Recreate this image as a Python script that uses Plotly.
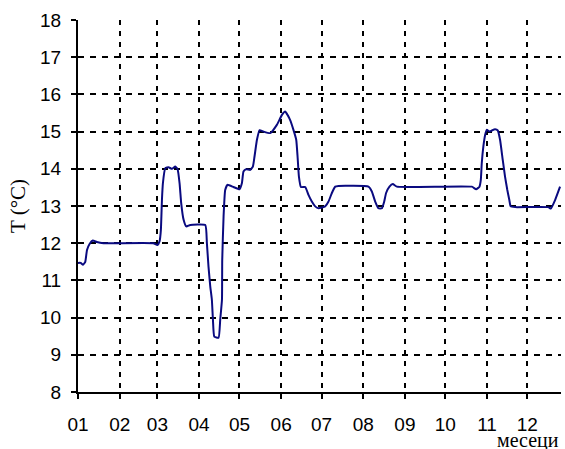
import plotly.graph_objects as go

# day offset from 1 January (non-leap year) and temperature in °C
day = [0, 2, 3.7, 5.4, 6.7, 8.6, 11, 14, 19, 56, 59, 60.6, 61.6, 62.4, 63.1, 64.9,
       67.3, 69.8, 72.3, 74, 75.5, 76.7, 78.5, 80.5, 83.4, 94.6, 95.8, 97, 98.3,
       99.5, 100.3, 101.3, 104.5, 105.7, 107, 107.2, 108.2, 109.4, 111.1, 115.6,
       120, 121.8, 123, 125, 128, 130, 131.2, 133, 135, 137.9, 142.9, 147.8, 151.6,
       154, 157.7, 160.2, 162.2, 163.2, 164.2, 165.7, 168.9, 171.3, 173.8, 176.3,
       178.8, 183.7, 186.2, 188.7, 191.2, 193.6, 215.9, 218.4, 220.9, 223.3, 225.9,
       227.6, 229, 231.5, 234, 237, 292.7, 295.9, 298.4, 299.4, 300.1, 301.3, 302.6,
       303.9, 305.8, 307.6, 310, 312, 313.7, 315.7, 317.4, 319.1, 320.6, 321.6,
       324.9, 349.6, 351.4, 354.6, 358.3]
temp = [11.47, 11.47, 11.42, 11.5, 11.82, 11.98, 12.07, 12.03, 12.0, 12.0, 11.95,
        12.05, 12.36, 13.17, 13.61, 14.02, 14.04, 14.0, 14.06, 13.99, 13.61, 13.08,
        12.63, 12.45, 12.49, 12.49, 12.0, 11.37, 10.84, 10.48, 9.94, 9.49, 9.46,
        9.94, 10.48, 11.55, 12.72, 13.43, 13.57, 13.51, 13.45, 13.61, 13.93, 13.99,
        13.97, 14.06, 14.33, 14.78, 15.04, 15.0, 14.96, 15.18, 15.45, 15.54, 15.31,
        15.04, 14.78, 14.33, 13.79, 13.51, 13.51, 13.3, 13.12, 12.99, 12.94, 12.99,
        13.12, 13.35, 13.52, 13.54, 13.52, 13.39, 13.12, 12.94, 12.94, 13.12, 13.35,
        13.52, 13.59, 13.52, 13.52, 13.45, 13.52, 13.70, 14.15, 14.6, 14.91, 15.05,
        15.0, 15.03, 15.06, 15.03, 14.78, 14.24, 13.79, 13.43, 13.16, 12.99, 12.97,
        12.97, 12.93, 13.16, 13.52]

month_start = [0, 31, 59, 90, 120, 151, 181, 212, 243, 273, 304, 334]
month_labels = ["01", "02", "03", "04", "05", "06", "07", "08", "09", "10", "11", "12"]
y_ticks = [8, 9, 10, 11, 12, 13, 14, 15, 16, 17, 18]

fig = go.Figure()
fig.add_trace(go.Scatter(
    x=day, y=temp, mode="lines",
    line=dict(color="#0a0a80", width=2, shape="spline", smoothing=0.4),
    showlegend=False, hoverinfo="skip",
))

fig.update_layout(
    width=565, height=449,
    margin=dict(l=78, r=4, t=20, b=57, autoexpand=False),
    paper_bgcolor="white", plot_bgcolor="white",
    font=dict(family="Liberation Sans, Arial, sans-serif", size=19, color="black"),
    xaxis=dict(
        range=[0, 359], tickmode="array", tickvals=month_start, ticktext=month_labels,
        showgrid=True, gridcolor="black", griddash="5px,6px", gridwidth=2,
        showline=True, linecolor="black", linewidth=1.5,
        ticks="outside", ticklen=5, tickwidth=1.5, tickcolor="black",
        zeroline=False, tickfont=dict(size=19), automargin=False, ticklabelstandoff=9,
    ),
    yaxis=dict(
        range=[8, 18], tickmode="array", tickvals=y_ticks,
        showgrid=True, gridcolor="black", griddash="6px,6px", gridwidth=2,
        showline=True, linecolor="black", linewidth=2,
        ticks="outside", ticklen=5, tickwidth=1.5, tickcolor="black",
        zeroline=False, tickfont=dict(size=19), ticklabelstandoff=6, automargin=False,
        title=dict(text="T (°C)", font=dict(family="Liberation Serif, Times New Roman, serif", size=21),
                   standoff=9),
    ),
    annotations=[dict(
        text="месеци", xref="paper", yref="paper", x=0.999, y=-0.131,
        xanchor="right", yanchor="middle", showarrow=False,
        font=dict(family="Liberation Serif, Times New Roman, serif", size=20, color="black"),
    )],
)

fig.write_html("out.html", config={"displayModeBar": False},
               post_script="document.body.style.margin='0';document.body.style.overflow='hidden';")
